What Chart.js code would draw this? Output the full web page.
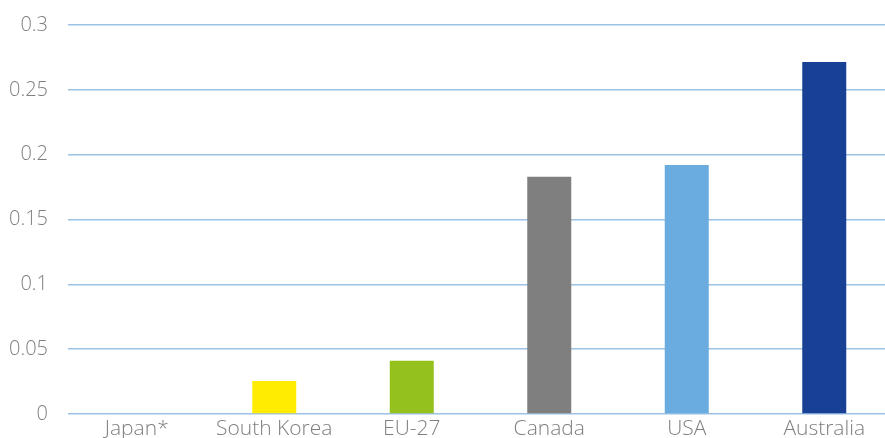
<!DOCTYPE html>
<html lang="en">
<head>
    <meta charset="UTF-8">
    <title>Bar chart</title>
    <script src="https://cdn.jsdelivr.net/npm/chart.js"></script>
    <style>
        html, body { margin: 0; padding: 0; overflow: hidden; background: #fff; }
        #wrap { position: absolute; left: 0; top: -7px; width: 893px; height: 457px; }
    </style>
</head>
<body>
    <div id="wrap">
        <canvas id="barChart"></canvas>
    </div>
    <script>
    const countries = ['Japan*', 'South Korea', 'EU-27', 'Canada', 'USA', 'Australia'];
    const values = [0, 0.0254, 0.041, 0.183, 0.192, 0.2715];
    const barColors = ['#2e75b6', '#ffec00', '#95c11f', '#7f7f7f', '#6aace0', '#184196'];
    const yTicks = [0, 0.05, 0.1, 0.15, 0.2, 0.25, 0.3];

    Chart.defaults.font.family = '"Open Sans", "Lato", sans-serif';
    Chart.defaults.font.weight = 300;
    Chart.defaults.color = '#7f7f7f';

    document.addEventListener('DOMContentLoaded', function() {
        new Chart(document.getElementById('barChart').getContext('2d'), {
            type: 'bar',
            data: {
                labels: countries,
                datasets: [{
                    data: values,
                    backgroundColor: barColors,
                    barPercentage: 0.64,
                    categoryPercentage: 0.5
                }]
            },
            options: {
                responsive: true,
                maintainAspectRatio: false,
                animation: false,
                layout: { padding: { top: 8, right: 0, left: 0, bottom: 0 } },
                plugins: {
                    legend: { display: false },
                    tooltip: { enabled: false }
                },
                scales: {
                    x: {
                        grid: { display: false },
                        border: { display: false },
                        ticks: { padding: -6, font: { size: 21, weight: 300 }, color: '#7f7f7f', maxRotation: 0 },
                        afterFit: function(axis) { axis.height = 36; }
                    },
                    y: {
                        min: 0,
                        max: 0.3,
                        border: { display: false },
                        grid: { color: '#9cc2e5', lineWidth: 1.5, drawTicks: false },
                        afterBuildTicks: function(axis) {
                            axis.ticks = yTicks.map(v => ({ value: v }));
                        },
                        ticks: {
                            padding: 20,
                            font: { size: 20, weight: 300 },
                            color: '#7f7f7f',
                            callback: function(v) { return String(v); }
                        },
                        afterFit: function(axis) { axis.width = 68; }
                    }
                }
            }
        });
    });
    </script>
</body>
</html>
